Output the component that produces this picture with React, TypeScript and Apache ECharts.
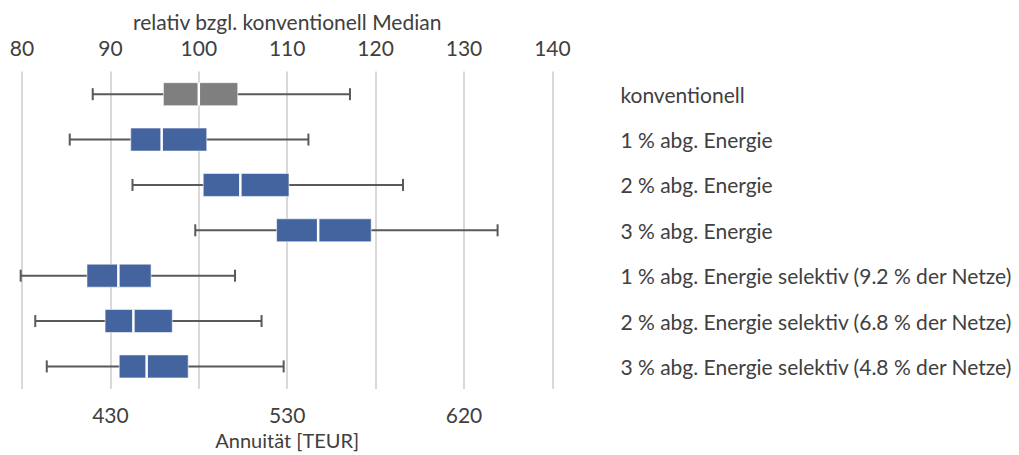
import React, { useEffect, useRef } from "react";
import * as echarts from "echarts";

// Scenario names, top to bottom
const categories = [
  "konventionell",
  "1 % abg. Energie",
  "2 % abg. Energie",
  "3 % abg. Energie",
  "1 % abg. Energie selektiv (9.2 % der Netze)",
  "2 % abg. Energie selektiv (6.8 % der Netze)",
  "3 % abg. Energie selektiv (4.8 % der Netze)",
];

// Box plot statistics, relative to the conventional median (%)
const whiskerLow = [88.0, 85.4, 92.5, 99.6, 79.85, 81.5, 82.8];
const quartile1 = [96.0, 92.3, 100.5, 108.8, 87.35, 89.4, 91.0];
const medians = [100.0, 95.8, 104.7, 113.5, 90.9, 92.6, 94.1];
const quartile3 = [104.4, 100.9, 110.2, 119.5, 94.6, 97.0, 98.8];
const whiskerHigh = [117.1, 112.4, 123.1, 133.8, 104.1, 107.1, 109.6];

// Absolute annuity labels (TEUR) at relative positions
const annuityTickPos = [90, 110, 130];
const annuityTickLabels = ["430", "530", "620"];

const boxColors = ["#7f7f7f", "#4464a0", "#4464a0", "#4464a0", "#4464a0", "#4464a0", "#4464a0"];

const FONT = "Lato";
const TEXT = "#404040";
const FS = 21;

export default function App() {
  const ref = useRef<HTMLDivElement>(null);

  useEffect(() => {
    if (!ref.current) return;
    const chart = echarts.init(ref.current, undefined, { renderer: "svg" });

    const rows = categories.map((_, i) => [
      i,
      whiskerLow[i],
      quartile1[i],
      medians[i],
      quartile3[i],
      whiskerHigh[i],
    ]);

    const renderItem = (params: any, api: any) => {
      const idx = api.value(0);
      const yc = api.coord([api.value(3), idx])[1];
      const xLow = api.coord([api.value(1), idx])[0];
      const xQ1 = api.coord([api.value(2), idx])[0];
      const xMed = api.coord([api.value(3), idx])[0];
      const xQ3 = api.coord([api.value(4), idx])[0];
      const xHigh = api.coord([api.value(5), idx])[0];
      const boxH = 23;
      const capH = 12;
      const whisker = { stroke: "#595959", lineWidth: 2 };
      return {
        type: "group",
        children: [
          { type: "line", shape: { x1: xLow, y1: yc, x2: xHigh, y2: yc }, style: whisker },
          { type: "line", shape: { x1: xLow, y1: yc - capH / 2, x2: xLow, y2: yc + capH / 2 }, style: whisker },
          { type: "line", shape: { x1: xHigh, y1: yc - capH / 2, x2: xHigh, y2: yc + capH / 2 }, style: whisker },
          {
            type: "rect",
            shape: { x: xQ1, y: yc - boxH / 2, width: xQ3 - xQ1, height: boxH },
            style: { fill: boxColors[idx], stroke: "rgba(255,255,255,0.55)", lineWidth: 1 },
          },
          {
            type: "line",
            shape: { x1: xMed, y1: yc - boxH / 2, x2: xMed, y2: yc + boxH / 2 },
            style: { stroke: "#ffffff", lineWidth: 2.5 },
          },
        ],
      };
    };

    chart.setOption({
      animation: false,
      textStyle: { fontFamily: FONT, color: TEXT },
      grid: { left: 22, right: 466.6, top: 71.5, bottom: 61.5, containLabel: false },
      xAxis: [
        {
          type: "value",
          position: "top",
          min: 80,
          max: 140,
          interval: 10,
          name: "relativ bzgl. konventionell Median",
          nameLocation: "middle",
          nameGap: 39,
          nameTextStyle: { fontFamily: FONT, fontSize: FS, color: TEXT },
          axisLine: { show: false },
          axisTick: { show: false },
          axisLabel: { fontFamily: FONT, fontSize: FS, color: TEXT, margin: 14 },
          splitLine: { show: true, lineStyle: { color: "#d9d9d9", width: 2 } },
        },
        {
          type: "value",
          position: "bottom",
          min: 80,
          max: 140,
          interval: 10,
          name: "Annuität [TEUR]",
          nameLocation: "middle",
          nameGap: 37,
          nameTextStyle: { fontFamily: FONT, fontSize: FS - 1, color: TEXT },
          axisLine: { show: false },
          axisTick: { show: false },
          splitLine: { show: false },
          axisLabel: {
            fontFamily: FONT,
            fontSize: FS,
            color: TEXT,
            margin: 15,
            formatter: (v: number) => {
              const k = annuityTickPos.indexOf(Math.round(v));
              return k >= 0 ? annuityTickLabels[k] : "";
            },
          },
        },
      ],
      yAxis: {
        type: "category",
        data: categories,
        inverse: true,
        position: "right",
        axisLine: { show: false },
        axisTick: { show: false },
        splitLine: { show: false },
        axisLabel: { fontFamily: FONT, fontSize: FS, color: TEXT, margin: 68, align: "left" },
      },
      series: [
        {
          type: "custom",
          xAxisIndex: 0,
          yAxisIndex: 0,
          renderItem,
          encode: { x: [1, 2, 3, 4, 5], y: 0 },
          data: rows,
        },
      ],
    });

    return () => chart.dispose();
  }, []);

  return <div ref={ref} style={{ width: 1019, height: 455, position: "absolute", left: 0, top: 0 }} />;
}
